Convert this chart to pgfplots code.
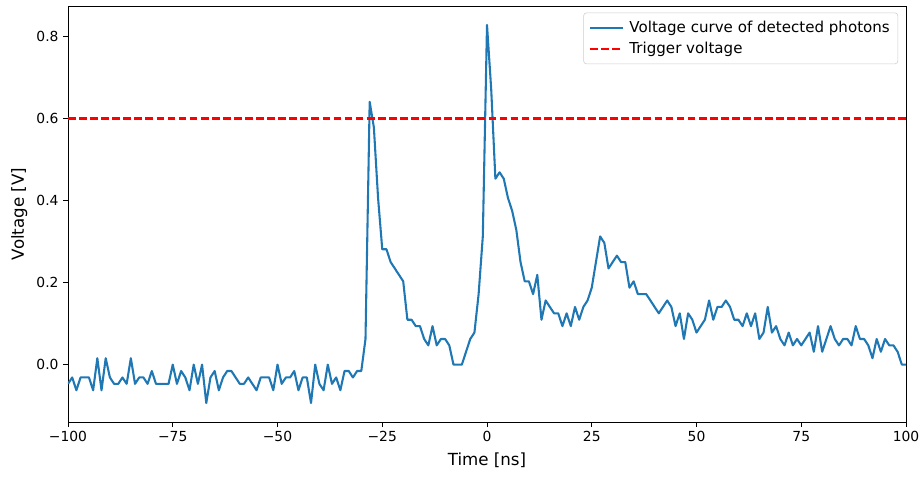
\documentclass[border=0pt]{standalone}
\usepackage{pgfplots}
\pgfplotsset{compat=1.18}
\usepackage{fontspec}
\setmainfont{DejaVu Sans}
\usetikzlibrary{calc}
\definecolor{mplblue}{HTML}{1F77B4}
\begin{document}
\begin{tikzpicture}
\begin{axis}[
  scale only axis,
  width=628.5pt, height=312pt,
  xmin=-100, xmax=100,
  ymin=-0.1399, ymax=0.8742,
  xtick={-100,-75,-50,-25,0,25,50,75,100},
  xticklabels={−100,−75,−50,−25,0,25,50,75,100},
  ytick={0,0.2,0.4,0.6,0.8},
  yticklabels={0.0,0.2,0.4,0.6,0.8},
  xtick pos=bottom, ytick pos=left,
  tick align=outside,
  major tick length=3.6pt,
  every tick/.style={black, line width=0.6pt},
  axis line style={line width=0.6pt},
  tick label style={font=\fontsize{10.4}{12}\selectfont},
  label style={font=\fontsize{12.5}{15}\selectfont},
  xlabel={Time [ns]},
  ylabel={Voltage [V]},
  xlabel style={yshift=-1.5pt},
  ylabel style={yshift=0pt},
  legend style={at={(rel axis cs:0.9905,0.984)}, anchor=north east,
    font=\fontsize{11.3}{13}\selectfont, draw=black!20, rounded corners=2pt,
    fill=white, row sep=2pt, inner xsep=4pt, inner ysep=4pt,
    /tikz/every odd column/.style={column sep=2pt}},
  legend cell align=left,
  legend image code/.code={\draw[#1] (0pt,0pt) -- (24.75pt,0pt);},
]
\addplot[mplblue, line width=1.56pt, line join=round] coordinates {
(-100,-0.0469) (-99,-0.0313) (-98,-0.0625) (-97,-0.0313) (-96,-0.0313) (-95,-0.0313)
(-94,-0.0625) (-93,0.0156) (-92,-0.0625) (-91,0.0156) (-90,-0.0313) (-89,-0.0469)
(-88,-0.0469) (-87,-0.0313) (-86,-0.0469) (-85,0.0156) (-84,-0.0469) (-83,-0.0313)
(-82,-0.0313) (-81,-0.0469) (-80,-0.0156) (-79,-0.0469) (-78,-0.0469) (-77,-0.0469)
(-76,-0.0469) (-75,0) (-74,-0.0469) (-73,-0.0156) (-72,-0.0313) (-71,-0.0625)
(-70,0) (-69,-0.0469) (-68,0) (-67,-0.0938) (-66,-0.0313) (-65,-0.0156)
(-64,-0.0625) (-63,-0.0313) (-62,-0.0156) (-61,-0.0156) (-60,-0.0313) (-59,-0.0469)
(-58,-0.0469) (-57,-0.0313) (-56,-0.0469) (-55,-0.0625) (-54,-0.0313) (-53,-0.0313)
(-52,-0.0313) (-51,-0.0625) (-50,0) (-49,-0.0469) (-48,-0.0313) (-47,-0.0313)
(-46,-0.0156) (-45,-0.0625) (-44,-0.0313) (-43,-0.0313) (-42,-0.0938) (-41,0)
(-40,-0.0469) (-39,-0.0625) (-38,0) (-37,-0.0469) (-36,-0.0313) (-35,-0.0625)
(-34,-0.0156) (-33,-0.0156) (-32,-0.0313) (-31,-0.0156) (-30,-0.0156) (-29,0.0625)
(-28,0.6406) (-27,0.5781) (-26,0.4063) (-25,0.2813) (-24,0.2813) (-23,0.25)
(-22,0.2344) (-21,0.2188) (-20,0.2031) (-19,0.1094) (-18,0.1094) (-17,0.0938)
(-16,0.0938) (-15,0.0625) (-14,0.0469) (-13,0.0938) (-12,0.0469) (-11,0.0625)
(-10,0.0625) (-9,0.0469) (-8,0) (-7,0) (-6,0) (-5,0.0313)
(-4,0.0625) (-3,0.0781) (-2,0.1719) (-1,0.3125) (0,0.8281) (1,0.6719)
(2,0.4531) (3,0.4688) (4,0.4531) (5,0.4063) (6,0.375) (7,0.3281)
(8,0.25) (9,0.2031) (10,0.2031) (11,0.1719) (12,0.2188) (13,0.1094)
(14,0.1563) (15,0.1406) (16,0.125) (17,0.125) (18,0.0938) (19,0.125)
(20,0.0938) (21,0.1406) (22,0.1094) (23,0.1406) (24,0.1563) (25,0.1875)
(26,0.25) (27,0.3125) (28,0.2969) (29,0.2344) (30,0.25) (31,0.2656)
(32,0.25) (33,0.25) (34,0.1875) (35,0.2031) (36,0.1719) (37,0.1719)
(38,0.1719) (39,0.1563) (40,0.1406) (41,0.125) (42,0.1406) (43,0.1563)
(44,0.1406) (45,0.0938) (46,0.125) (47,0.0625) (48,0.125) (49,0.1094)
(50,0.0781) (51,0.0938) (52,0.1094) (53,0.1563) (54,0.1094) (55,0.1406)
(56,0.1406) (57,0.1563) (58,0.1406) (59,0.1094) (60,0.1094) (61,0.0938)
(62,0.125) (63,0.0938) (64,0.125) (65,0.0625) (66,0.0781) (67,0.1406)
(68,0.0781) (69,0.0938) (70,0.0625) (71,0.0469) (72,0.0781) (73,0.0469)
(74,0.0625) (75,0.0469) (76,0.0625) (77,0.0781) (78,0.0313) (79,0.0938)
(80,0.0313) (81,0.0625) (82,0.0938) (83,0.0625) (84,0.0469) (85,0.0625)
(86,0.0625) (87,0.0469) (88,0.0938) (89,0.0625) (90,0.0625) (91,0.0469)
(92,0.0156) (93,0.0625) (94,0.0313) (95,0.0625) (96,0.0469) (97,0.0469)
(98,0.0313) (99,0) (100,0)
};
\addlegendentry{Voltage curve of detected photons}
\addplot[red, line width=1.56pt, dash pattern=on 5.8pt off 2.5pt] coordinates {(-100,0.6) (100,0.6)};
\addlegendentry{Trigger voltage}
\end{axis}
\pgfresetboundingbox
\path[use as bounding box] ($(current axis.south west)+(-51pt,-41.25pt)$) rectangle ($(current axis.north east)+(12.75pt,4.5pt)$);
\end{tikzpicture}
\end{document}
